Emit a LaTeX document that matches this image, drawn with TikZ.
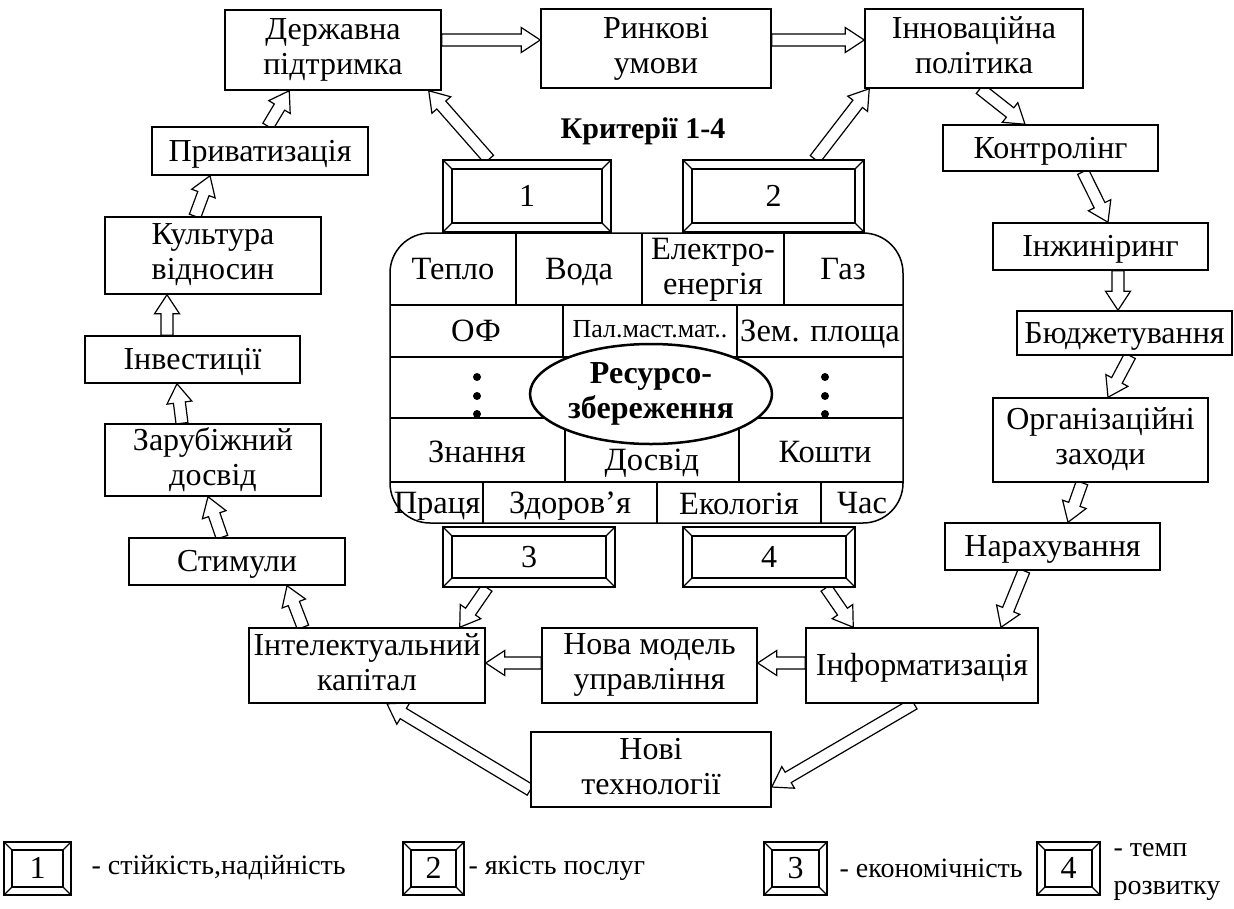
\documentclass[tikz,border=0pt]{standalone}
\usepackage{fontspec}
\setmainfont{Liberation Serif}
\usetikzlibrary{calc,shapes.geometric,backgrounds}

\newcommand\boxfont{\fontsize{32}{35}\selectfont}
\newcommand\cellfont{\fontsize{32.5}{35}\selectfont}
\newcommand\smallfont{\fontsize{26}{28}\selectfont}
\newcommand\boldfont{\fontsize{32}{35}\selectfont\bfseries}
\newcommand\legfont{\fontsize{28}{38}\selectfont}
\newcommand\bstrut{\rule[-7pt]{0pt}{34pt}}

% bevelled inner frame of the criteria boxes
\newcommand\framedeco[1]{%
  \path (path picture bounding box.north west) coordinate (fnw)
        (path picture bounding box.north east) coordinate (fne)
        (path picture bounding box.south west) coordinate (fsw)
        (path picture bounding box.south east) coordinate (fse);
  \draw[line width=1.2pt] ($(fnw)+(#1,#1)$) rectangle ($(fse)+(-#1,-#1)$);
  \draw[line width=1.2pt] (fnw) -- ++(#1,#1) (fne) -- ++(-#1,#1)
     (fsw) -- ++(#1,-#1) (fse) -- ++(-#1,-#1);}

% hollow block arrow from #1 to #2
\newcommand\harrow[2]{%
  \path ($#1$) coordinate (ha) ($#2$) coordinate (hb) ($(hb)!19pt!(ha)$) coordinate (hh);
  \draw[hollow] ($(ha)!6pt!90:(hb)$) -- ($(hh)!6pt!90:(hb)$) -- ($(hh)!12.5pt!90:(hb)$)
     -- (hb) -- ($(hh)!12.5pt!-90:(hb)$) -- ($(hh)!6pt!-90:(hb)$) -- ($(ha)!6pt!-90:(hb)$) -- cycle;}

\begin{document}
\begin{tikzpicture}[x=1pt,y=-1pt,
    box/.style 2 args={draw, fill=white, line width=1.5pt, align=center, inner sep=0pt,
      font=\boxfont, minimum width=#1, minimum height=#2,
      execute at begin node=\bstrut, execute at end node=\bstrut},
    framebox/.style={draw, fill=white, line width=1.5pt, inner sep=0pt, font=\boxfont,
      path picture={\framedeco{#1}}, execute at begin node=\bstrut},
    cell/.style={inner sep=0pt, align=center, font=\cellfont,
      execute at begin node=\bstrut, execute at end node=\bstrut},
    hollow/.style={draw, fill=white, line width=1.2pt, line join=miter}]
\useasboundingbox (0,0) rectangle (1234,908);

% top row
\node[box={216pt}{80pt}] (derz) at (333,50) {Державна\\підтримка};
\node[box={230pt}{79pt}] (rynk) at (656,48.5) {Ринкові\\умови};
\node[box={218pt}{79pt}] (innov) at (974,48.5) {Інноваційна\\політика};
\node[font=\fontsize{30}{34}\selectfont\bfseries] (kryt) at (643,131) {Критерії 1-4};

% left column
\node[box={216pt}{48pt}] (priv) at (260,151) {Приватизація};
\node[box={216pt}{77pt}] (kult) at (213,255.5) {Культура\\відносин};
\node[box={215pt}{47pt}] (inv) at (192.5,359.5) {Інвестиції};
\node[box={216pt}{72pt}] (zarub) at (213,460) {Зарубіжний\\досвід};
\node[box={216pt}{47pt}] (stym) at (237,561.5) {Стимули};

% right column
\node[box={215pt}{46pt}] (kontr) at (1050.5,148) {Контролінг};
\node[box={215pt}{47pt}] (inzh) at (1100.5,246.5) {Інжиніринг};
\node[box={215pt}{44pt}] (budzh) at (1124.5,333) {Бюджетування};
\node[box={215pt}{84pt}] (org) at (1100.5,440) {Організаційні\\заходи};
\node[box={215pt}{47pt}] (narakh) at (1052.5,546.5) {Нарахування};

% bottom
\node[box={236pt}{75pt}] (intel) at (367,665.5) {Інтелектуальний\\капітал};
\node[box={215pt}{75pt}] (nova) at (649.5,665.5) {Нова модель\\управління};
\node[box={232pt}{75pt}] (inform) at (922,665.5) {Інформатизація};
\node[box={240pt}{75pt}] (novi) at (651,769.5) {Нові\\технології};

% criteria boxes
\node[framebox=9, minimum width=168pt, minimum height=72pt] (k1) at (527,196) {1};
\node[framebox=9, minimum width=181pt, minimum height=72pt] (k2) at (773.5,196) {2};
\node[framebox=9, minimum width=172pt, minimum height=60pt] (k3) at (529,557) {3};
\node[framebox=9, minimum width=172pt, minimum height=60pt] (k4) at (769,557) {4};

% resource table
\node[draw, fill=white, line width=1.5pt, rounded corners=40pt, minimum width=513pt,
  minimum height=290pt] (resbox) at (646.5,378) {};
\foreach \y in {305,357,418,482}
  \draw[line width=1.3pt] (390,\y) -- (903,\y);
\foreach \x/\ya/\yb in {516/233/305, 642/233/305, 784/233/305, 563/305/357, 737/305/357,
    565/418/482, 739/418/482, 483/482/523, 657/482/523, 821/482/523}
  \draw[line width=1.3pt] (\x,\ya) -- (\x,\yb);
\node[cell] (teplo) at (453,269) {Тепло};
\node[cell] (voda) at (579,269) {Вода};
\node[cell] (elek) at (713,270) {Електро-\\енергія};
\node[cell] (gaz) at (843,269) {Газ};
\node[cell] (of) at (476,331) {ОФ};
\node[cell, font=\smallfont] (pal) at (650,327) {Пал.маст.мат..};
\node[cell] (zem) at (820,331) {Зем. площа};
\node[cell] (znan) at (477,452) {Знання};
\node[cell] (dosv) at (652,460) {Досвід};
\node[cell] (kosht) at (825,452) {Кошти};
\node[cell] (prac) at (437,503) {Праця};
\node[cell] (zdor) at (570,503) {Здоров’я};
\node[cell] (ekol) at (739,504) {Екологія};
\node[cell] (chas) at (862,503) {Час};
\foreach \x in {477,825}
  \foreach \y in {377,396,414}
    \fill (\x,\y) circle (4pt);
\node[ellipse, draw, fill=white, line width=2.5pt, minimum width=242pt, minimum height=100pt,
  inner sep=0pt, align=center, font=\boldfont] (res) at (651,394) {Ресурсо-\\збереження};

% legend
\node[framebox=8, minimum width=67pt, minimum height=53pt] (lb1) at (37.5,868.5) {1};
\node[anchor=west, font=\legfont] (lt1) at (88,868) {- стійкість,надійність};
\node[framebox=8, minimum width=61pt, minimum height=53pt] (lb2) at (433.5,868.5) {2};
\node[anchor=west, font=\legfont] (lt2) at (465,868) {- якість послуг};
\node[framebox=8, minimum width=63pt, minimum height=53pt] (lb3) at (795.5,868.5) {3};
\node[anchor=west, font=\legfont] (lt3) at (836,868) {- економічність};
\node[framebox=8, minimum width=63pt, minimum height=53pt] (lb4) at (1068.5,868.5) {4};
\node[anchor=west, align=left, font=\legfont] (lt4) at (1110,872) {- темп\\розвитку};

% arrows
\begin{scope}[on background layer]
\harrow{(derz.east)+(0,-10)}{(rynk.west)+(0,-8.5)}
\harrow{(rynk.east)+(0,-8.5)}{(innov.west)+(0,-8.5)}
\harrow{(k1.north)+(-38,0)}{(derz.south east)+(-13,0)}
\harrow{(k2.north)+(41.5,0)}{(innov.south west)+(5,0)}
\harrow{(priv.north)+(8,0)}{(derz.south west)+(65,0)}
\harrow{(kult.north)+(-18,0)}{(priv.south)+(-50,0)}
\harrow{(inv.north)+(-25.5,0)}{(kult.south)+(-46,0)}
\harrow{(zarub.north)+(-31,0)}{(inv.south)+(-15.5,0)}
\harrow{(stym.north)+(-15,0)}{(zarub.south)+(-5,0)}
\harrow{(intel.north)+(-64,0)}{(stym.south)+(50,0)}
\harrow{(k3.south)+(-42,0)}{(intel.north east)+(-26,0)}
\harrow{(nova.west)+(0,-2.5)}{(intel.east)+(0,-2.5)}
\harrow{(inform.west)+(0,-2.5)}{(nova.east)+(0,-2.5)}
\harrow{(k4.south)+(57,0)}{(inform.north west)+(48,0)}
\harrow{(inform.south)+(-8,0)}{(novi.east)+(0,17.5)}
\harrow{(novi.west)+(0,20.5)}{(intel.south)+(20,0)}
\harrow{(narakh.south)+(-28.5,0)}{(inform.north)+(79,0)}
\harrow{(org.south)+(-18.5,0)}{(narakh.north)+(15.5,0)}
\harrow{(budzh.south)+(5.5,0)}{(org.north)+(7.5,0)}
\harrow{(inzh.south)+(17.5,0)}{(budzh.north)+(-6.5,0)}
\harrow{(kontr.south)+(32.5,0)}{(inzh.north)+(7.5,0)}
\harrow{(innov.south)+(6,0)}{(kontr.north)+(-25.5,0)}
\end{scope}
\end{tikzpicture}
\end{document}
